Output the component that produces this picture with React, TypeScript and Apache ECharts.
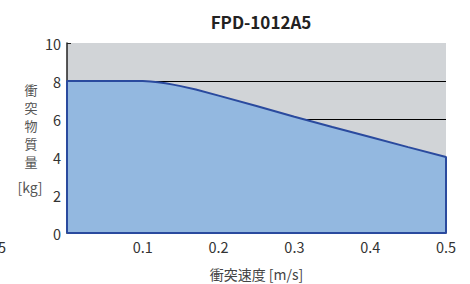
import React, { useEffect, useRef } from "react";
import * as echarts from "echarts";

const title = "FPD-1012A5";
const xName = "衝突速度 [m/s]";
const yNameChars = ["衝", "突", "物", "質", "量"];
const yUnit = "[kg]";
const speeds = [0, 0, 0.1, 0.11, 0.12, 0.13, 0.14, 0.15, 0.17, 0.2, 0.25, 0.3, 0.35, 0.4, 0.45, 0.5, 0.5, 0];
const masses = [0, 8, 8, 7.98, 7.94, 7.88, 7.81, 7.73, 7.55, 7.23, 6.68, 6.12, 5.58, 5.05, 4.52, 4.0, 0, 0];
const xTicks = [0.1, 0.2, 0.3, 0.4, 0.5];
const yTicks = [0, 2, 4, 6, 8, 10];

const FONT = "'Noto Sans CJK JP', 'Noto Sans', sans-serif";

export default function App() {
  const ref = useRef<HTMLDivElement>(null);
  useEffect(() => {
    if (!ref.current) return;
    const chart = echarts.init(ref.current, null, { renderer: "svg" });
    const data = speeds.map((s, i) => [s, masses[i]]);
    const nameGraphics = yNameChars.map((ch, i) => ({
      type: "text",
      x: 31,
      y: 89 + i * 18,
      style: {
        text: ch,
        fontSize: 13,
        lineHeight: 16,
        fill: "#555",
        fontFamily: FONT,
        textAlign: "center",
        textVerticalAlign: "middle",
      },
    }));
    chart.setOption({
      animation: false,
      textStyle: { fontFamily: FONT },
      title: {
        text: title,
        left: 256,
        textAlign: "center",
        top: 8,
        textStyle: { fontSize: 17, fontWeight: "bold", color: "#222", fontFamily: FONT },
      },
      grid: {
        left: 67,
        right: 24,
        top: 43,
        bottom: 51,
        show: true,
        backgroundColor: "#d1d4d7",
        borderWidth: 0,
        containLabel: false,
        outerBoundsMode: "none",
      },
      xAxis: {
        type: "value",
        min: 0,
        max: 0.5,
        interval: 0.1,
        name: xName,
        nameLocation: "middle",
        nameGap: 33,
        nameTextStyle: { fontSize: 14, lineHeight: 16, color: "#444", fontFamily: FONT },
        axisLine: { show: true, lineStyle: { color: "#222", width: 1 } },
        axisTick: { show: true, inside: true, length: 4, lineStyle: { color: "#222" } },
        axisLabel: {
          showMinLabel: false,
          fontSize: 14.5,
          color: "#333",
          margin: 6,
          formatter: (v: number) => (xTicks.some((t) => Math.abs(t - v) < 1e-9) ? String(Math.round(v * 10) / 10) : ""),
        },
        splitLine: { show: false },
      },
      yAxis: {
        type: "value",
        min: 0,
        max: 10,
        interval: 2,
        axisLine: { show: true, lineStyle: { color: "#222", width: 1.5 } },
        axisTick: { show: true, inside: true, length: 4, lineStyle: { color: "#222" } },
        axisLabel: {
          fontSize: 14.5,
          color: "#333",
          margin: 6,
          formatter: (v: number) => (yTicks.includes(v) ? String(v) : ""),
        },
        splitLine: {
          show: true,
          lineStyle: { color: ["#000", "#000", "#000", "#000", "#000", "rgba(0,0,0,0)"], width: 1 },
        },
      },
      graphic: [
        ...nameGraphics,
        {
          type: "text",
          x: 30,
          y: 187,
          style: {
            text: yUnit,
            fontSize: 14,
            fill: "#555",
            fontFamily: FONT,
            textAlign: "center",
            textVerticalAlign: "middle",
          },
        },
        {
          type: "text",
          x: 6,
          y: 246,
          style: {
            text: "0.5",
            fontSize: 14.5,
            fill: "#333",
            fontFamily: FONT,
            textAlign: "right",
            textVerticalAlign: "middle",
          },
        },
      ],
      series: [
        {
          type: "line",
          data,
          showSymbol: false,
          symbol: "none",
          smooth: false,
          lineStyle: { color: "#2a4a9e", width: 2 },
          areaStyle: { color: "#93b8e0", opacity: 1 },
        },
      ],
    });
    return () => chart.dispose();
  }, []);
  return <div ref={ref} style={{ width: 470, height: 284, position: "absolute", left: 0, top: 0 }} />;
}
